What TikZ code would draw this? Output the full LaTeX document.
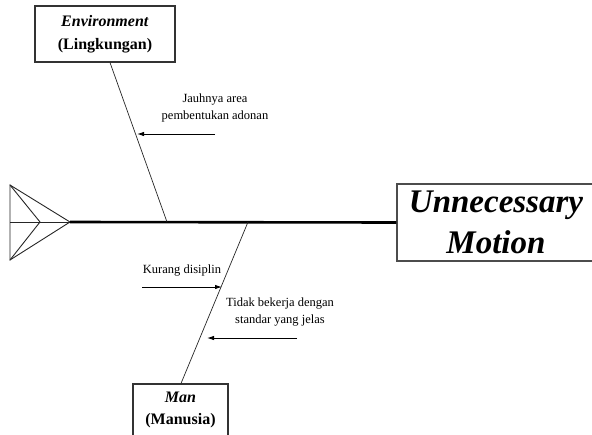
\documentclass[tikz,border=0pt]{standalone}
\usepackage{fontspec}
\setmainfont{Liberation Serif}
\usetikzlibrary{arrows.meta}
\begin{document}
\begin{tikzpicture}[x=1pt,y=-1pt,
  catbox/.style={draw=black!80,line width=1.1pt,fill=white,align=center,inner sep=0pt,
    font=\fontsize{16}{22.5}\selectfont\bfseries},
  headbox/.style={draw=black!70,line width=1.4pt,fill=white,align=center,inner sep=0pt,
    font=\fontsize{33}{41}\selectfont\bfseries\itshape},
  bone/.style={draw=black!85,line width=0.7pt},
  spine/.style={draw=black,line width=2.6pt},
  tail/.style={draw=black!85,line width=0.9pt,line join=miter},
  cause/.style={draw=black,line width=0.9pt,-{Latex[length=7pt,width=4.5pt]}},
  lbl/.style={align=center,inner sep=0pt,font=\fontsize{12.5}{17.5}\selectfont}]
\useasboundingbox (0,0) rectangle (592,434);
\begin{scope}
\clip (0,0) rectangle (592,434);

% head of the fish: the effect
\node[headbox,minimum width=198,minimum height=77] (head) at (496,222.5)
  {Unnecessary\\Motion};

% tail
\coordinate (tt) at (10,185);
\coordinate (tb) at (10,260);
\coordinate (tm) at (10,222);
\coordinate (tin) at (40,222);
\coordinate (tip) at (70,222);
\draw[tail] (tt) -- (tip) -- (tb) -- cycle;
\draw[tail] (tt) -- (tin) -- (tb);
\draw[tail] (tm) -- (tip);

% spine
\draw[spine] (tip) -- (head.west);

% category boxes
\node[catbox,minimum width=140,minimum height=56] (env) at (105,34)
  {\textit{Environment}\\(Lingkungan)};
\node[catbox,minimum width=95,minimum height=52] (man) at (180.5,410)
  {\textit{Man}\\(Manusia)};

% bones
\coordinate (envj) at (167,222);
\coordinate (manj) at (248,222);
\draw[bone] ([xshift=5pt]env.south) -- (envj);
\draw[bone] (manj) -- ([xshift=0.5pt]man.north);

% causes
\node[lbl] (c1) at (215,108) {Jauhnya area\\pembentukan adonan};
\coordinate (c1s) at (215,134);
\coordinate (c1e) at (137,134);
\draw[cause] (c1s) -- (c1e);

\node[lbl,anchor=base] (c2) at (182,273) {Kurang disiplin};
\coordinate (c2s) at (142,287);
\coordinate (c2e) at (222,287);
\draw[cause] (c2s) -- (c2e);

\node[lbl] (c3) at (280,312) {Tidak bekerja dengan\\standar yang jelas};
\coordinate (c3s) at (297,338);
\coordinate (c3e) at (207,338);
\draw[cause] (c3s) -- (c3e);
\end{scope}
\end{tikzpicture}
\end{document}
